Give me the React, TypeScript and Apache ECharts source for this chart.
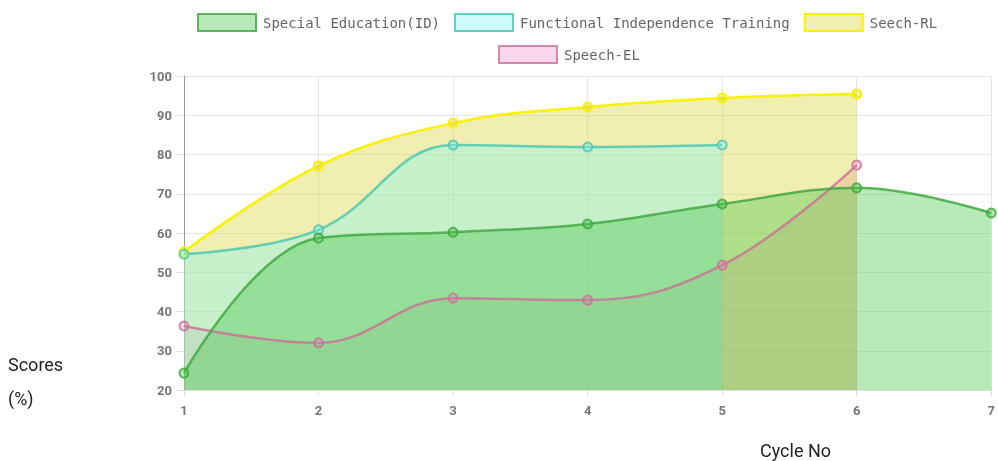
import React, { useEffect, useRef } from "react";
import * as echarts from "echarts";

const cycles = ["1", "2", "3", "4", "5", "6", "7"];
const specialEducation = [24.3, 58.7, 60.2, 62.3, 67.4, 71.5, 65.1];
const functionalIndependence = [54.6, 60.8, 82.4, 81.9, 82.4];
const speechRL = [55.2, 77.1, 88.0, 92.1, 94.4, 95.4];
const speechEL = [36.3, 32.0, 43.4, 42.9, 51.8, 77.3];

const yTicks = { min: 20, max: 100, interval: 10 };

const styles = {
  se: { line: "rgba(60,165,60,0.8)", fill: "rgba(78,200,78,0.4)" },
  fit: { line: "rgba(80,200,175,0.85)", fill: "rgba(132,243,240,0.4)" },
  rl: { line: "#fbf200", fill: "rgba(212,206,29,0.35)" },
  el: { line: "rgba(205,110,150,0.8)", fill: "rgba(230,110,190,0.28)" },
};

function mkSeries(name: string, data: number[], st: { line: string; fill: string }) {
  return {
    name,
    type: "line",
    data,
    smooth: 0.4,
    symbol: "circle",
    symbolSize: 9,
    showSymbol: true,
    lineStyle: { color: st.line, width: 2.5 },
    itemStyle: { color: st.fill, borderColor: st.line, borderWidth: 2 },
    areaStyle: { color: st.fill, origin: "start", opacity: 1 },
    emphasis: { disabled: true },
  };
}

const legendText = {
  fontFamily: "DejaVu Sans Mono",
  fontSize: 14,
  color: "#666",
  padding: [0, 0, 0, 2],
};

export default function App() {
  const ref = useRef<HTMLDivElement>(null);
  useEffect(() => {
    if (!ref.current) return;
    const chart = echarts.init(ref.current, undefined, { renderer: "svg" });
    const legendItem = (name: string, st: { line: string; fill: string }) => ({
      name,
      icon: "rect",
      itemStyle: { color: st.fill, borderColor: st.line, borderWidth: 2 },
    });
    chart.setOption({
      animation: false,
      legend: [
        {
          left: 197,
          top: 13,
          padding: 0,
          itemWidth: 58,
          itemHeight: 17,
          itemGap: 14,
          textStyle: legendText,
          data: [
            legendItem("Special Education(ID)", styles.se),
            legendItem("Functional Independence Training", styles.fit),
            legendItem("Seech-RL", styles.rl),
          ],
        },
        {
          left: 498,
          top: 45,
          padding: 0,
          itemWidth: 58,
          itemHeight: 17,
          textStyle: legendText,
          data: [legendItem("Speech-EL", styles.el)],
        },
      ],
      grid: { left: 184, right: 4, top: 76, bottom: 71, containLabel: false },
      xAxis: {
        type: "category",
        data: cycles,
        boundaryGap: false,
        axisLine: { lineStyle: { color: "#ddd" } },
        axisTick: { show: true, length: 6, lineStyle: { color: "#ddd" } },
        axisLabel: { color: "#777", fontSize: 13, fontFamily: "Roboto", fontWeight: "bold", margin: 14 },
        splitLine: { show: true, lineStyle: { color: "#e6e6e6" } },
      },
      yAxis: {
        type: "value",
        min: yTicks.min,
        max: yTicks.max,
        interval: yTicks.interval,
        axisLine: { show: true, lineStyle: { color: "#999" } },
        axisTick: { show: true, length: 7, lineStyle: { color: "#ddd" } },
        axisLabel: { color: "#777", fontSize: 13, fontFamily: "Roboto", fontWeight: "bold", margin: 12 },
        splitLine: { show: true, lineStyle: { color: "#e6e6e6" } },
      },
      graphic: [
        {
          type: "text",
          left: 8,
          top: 347,
          style: { text: "Scores\n(%)", fontFamily: "Roboto", fontSize: 18, lineHeight: 34, fill: "#222" },
        },
        {
          type: "text",
          left: 760,
          top: 441,
          style: { text: "Cycle No", fontFamily: "Roboto", fontSize: 18, fill: "#222" },
        },
      ],
      series: [
        mkSeries("Speech-EL", speechEL, styles.el),
        mkSeries("Seech-RL", speechRL, styles.rl),
        mkSeries("Functional Independence Training", functionalIndependence, styles.fit),
        mkSeries("Special Education(ID)", specialEducation, styles.se),
      ],
    });
    return () => chart.dispose();
  }, []);
  return (
    <div
      ref={ref}
      style={{ position: "fixed", left: 0, top: 0, width: 998, height: 461 }}
    />
  );
}
